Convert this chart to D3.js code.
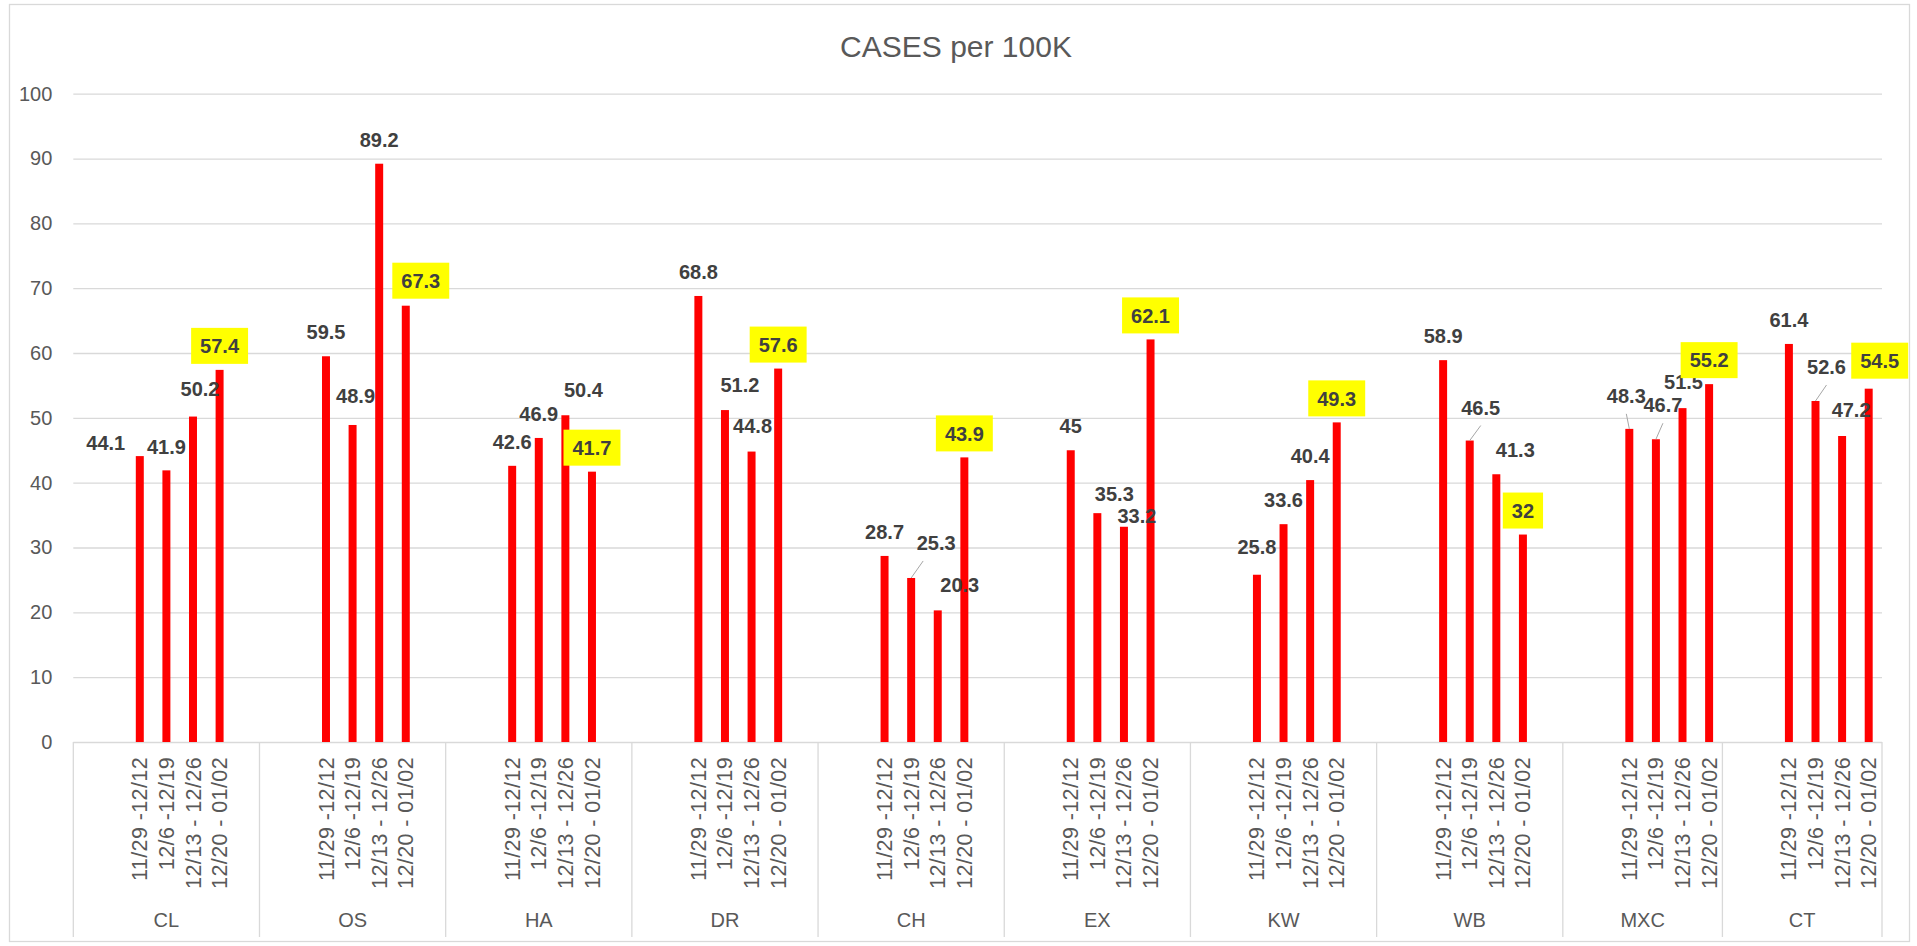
<!DOCTYPE html>
<html>
<head>
<meta charset="utf-8">
<script src="https://cdn.jsdelivr.net/npm/d3@7"></script>
<style>
  body { margin: 0; background: #fff; }
  svg { display: block; font-family: "Liberation Sans", Arial, sans-serif; }
</style>
</head>
<body>
<div id="chart"></div>
<script>
// ---- data ----
const groups = ["CL", "OS", "HA", "DR", "CH", "EX", "KW", "WB", "MXC", "CT"];
const weeks = ["11/29 -12/12", "12/6 -12/19", "12/13 - 12/26", "12/20 - 01/02"];
const week1 = [44.1, 59.5, 42.6, 68.8, 28.7, 45, 25.8, 58.9, 48.3, 61.4];
const week2 = [41.9, 48.9, 46.9, 51.2, 25.3, 35.3, 33.6, 46.5, 46.7, 52.6];
const week3 = [50.2, 89.2, 50.4, 44.8, 20.3, 33.2, 40.4, 41.3, 51.5, 47.2];
const week4 = [57.4, 67.3, 41.7, 57.6, 43.9, 62.1, 49.3, 32, 55.2, 54.5];
const yTicks = [0, 10, 20, 30, 40, 50, 60, 70, 80, 90, 100];
const chartTitle = "CASES per 100K";

// groups that have an extra empty category row after their last week
const emptyAfter = ["CL", "OS", "HA", "DR", "CH", "EX", "KW", "WB"];

// hand-moved data labels: [dx, dy] from the default spot above the bar
const labelShift = {
  "CL|0": [-34, 11], "CL|2": [7, -4],
  "OS|1": [3, -5], "OS|3": [15, -1],
  "HA|2": [18, -1],
  "DR|1": [15, -1], "DR|2": [1, -2],
  "CH|1": [25, -11], "CH|2": [22, -2],
  "EX|1": [17, 5], "EX|2": [13, 13],
  "KW|0": [0, -4],
  "WB|1": [11, -9], "WB|2": [19, 0],
  "MXC|0": [-3, -9], "MXC|1": [7, -10], "MXC|2": [1, -2],
  "CT|1": [11, -10], "CT|2": [9, -2], "CT|3": [11, -4]
};
const leaders = ["CH|1", "WB|1", "MXC|0", "MXC|1", "CT|1"];

// ---- layout ----
const W = 1917, H = 946;
const plot = { left: 73.3, right: 1882, top: 93.7, bottom: 742 };

const series = [week1, week2, week3, week4];
const rows = [];
const slots = [];
groups.forEach((g, gi) => {
  slots.push(g + "|e0", g + "|e1");
  weeks.forEach((w, wi) => {
    slots.push(g + "|" + wi);
    rows.push({ group: g, wi, week: w, value: series[wi][gi], key: g + "|" + wi });
  });
  if (emptyAfter.includes(g)) slots.push(g + "|e2");
});

const svg = d3.select("#chart").append("svg")
  .attr("width", W)
  .attr("height", H);

// outer chart border
svg.append("rect")
  .attr("x", 9.5).attr("y", 4.5)
  .attr("width", 1900).attr("height", 937)
  .attr("fill", "#fff")
  .attr("stroke", "#d9d9d9")
  .attr("stroke-width", 1.3);

svg.append("text")
  .attr("x", 956)
  .attr("y", 57)
  .attr("text-anchor", "middle")
  .style("font-size", "30px")
  .style("fill", "#595959")
  .text(chartTitle);

const x = d3.scaleBand()
  .domain(slots)
  .range([plot.left, plot.right])
  .paddingInner(0.7)
  .paddingOuter(0.35);

const y = d3.scaleLinear()
  .domain([0, 100])
  .range([plot.bottom, plot.top]);

// gridlines + y labels
const yAxis = svg.append("g")
  .attr("transform", `translate(${plot.left},0)`)
  .call(d3.axisLeft(y)
    .tickValues(yTicks)
    .tickSize(-(plot.right - plot.left))
    .tickPadding(21)
    .tickFormat(d3.format("d")));
yAxis.select(".domain").remove();
yAxis.selectAll("line").attr("stroke", "#d9d9d9").attr("stroke-width", 1.3);
yAxis.selectAll("text")
  .style("font-size", "20px")
  .style("font-family", "Liberation Sans, Arial, sans-serif")
  .style("fill", "#595959");

// group separators under the axis
const step = x.step();
const groupEdges = groups.map(g => x(g + "|e0") - step * x.paddingOuter());
groupEdges.push(plot.right);
svg.append("g").selectAll("line")
  .data(groupEdges)
  .join("line")
  .attr("x1", d => d).attr("x2", d => d)
  .attr("y1", plot.bottom).attr("y2", 937)
  .attr("stroke", "#d9d9d9")
  .attr("stroke-width", 1.3);

// group names
svg.append("g").selectAll("text")
  .data(groups)
  .join("text")
  .attr("x", (d, i) => (groupEdges[i] + groupEdges[i + 1]) / 2)
  .attr("y", 927)
  .attr("text-anchor", "middle")
  .style("font-size", "20px")
  .style("fill", "#595959")
  .text(d => d);

// week labels, rotated
const bx = d => x(d.key) + x.bandwidth() / 2;
svg.append("g").selectAll("text")
  .data(rows)
  .join("text")
  .attr("transform", d => `translate(${bx(d)},757) rotate(-90)`)
  .attr("text-anchor", "end")
  .attr("dy", "0.35em")
  .style("font-size", "21.5px")
  .style("letter-spacing", "0.4px")
  .style("fill", "#595959")
  .text(d => d.week);

// bars
svg.append("g").selectAll("rect")
  .data(rows)
  .join("rect")
  .attr("x", d => x(d.key))
  .attr("y", d => y(d.value))
  .attr("width", x.bandwidth())
  .attr("height", d => y(0) - y(d.value))
  .attr("fill", "#ff0000");

// label positions
rows.forEach(d => {
  const s = labelShift[d.key] || [0, 0];
  d.lx = bx(d) + s[0];
  d.ly = y(d.value) - 24 + s[1];
});

// leader lines
svg.append("g").selectAll("line")
  .data(rows.filter(d => leaders.includes(d.key)))
  .join("line")
  .attr("x1", d => (bx(d) < d.lx - 20 ? d.lx - 13 : d.lx))
  .attr("y1", d => d.ly + 18)
  .attr("x2", d => bx(d))
  .attr("y2", d => y(d.value))
  .attr("stroke", "#a6a6a6")
  .attr("stroke-width", 1);

const labels = svg.append("g").selectAll("g")
  .data(rows)
  .join("g");

const boxes = labels.filter(d => d.wi === 3).append("rect")
  .attr("fill", "#ffff00");

labels.append("text")
  .attr("x", d => d.lx)
  .attr("y", d => d.ly)
  .attr("dy", "0.36em")
  .attr("text-anchor", "middle")
  .style("font-size", "20px")
  .style("font-weight", "bold")
  .style("fill", "#404040")
  .text(d => d.value);

// size the yellow boxes to their text
boxes.each(function(d) {
  const t = d3.select(this.parentNode).select("text").node().getComputedTextLength();
  d3.select(this)
    .attr("x", d.lx - t / 2 - 9)
    .attr("y", d.ly - 18)
    .attr("width", t + 18)
    .attr("height", 36);
});
</script>
</body>
</html>
